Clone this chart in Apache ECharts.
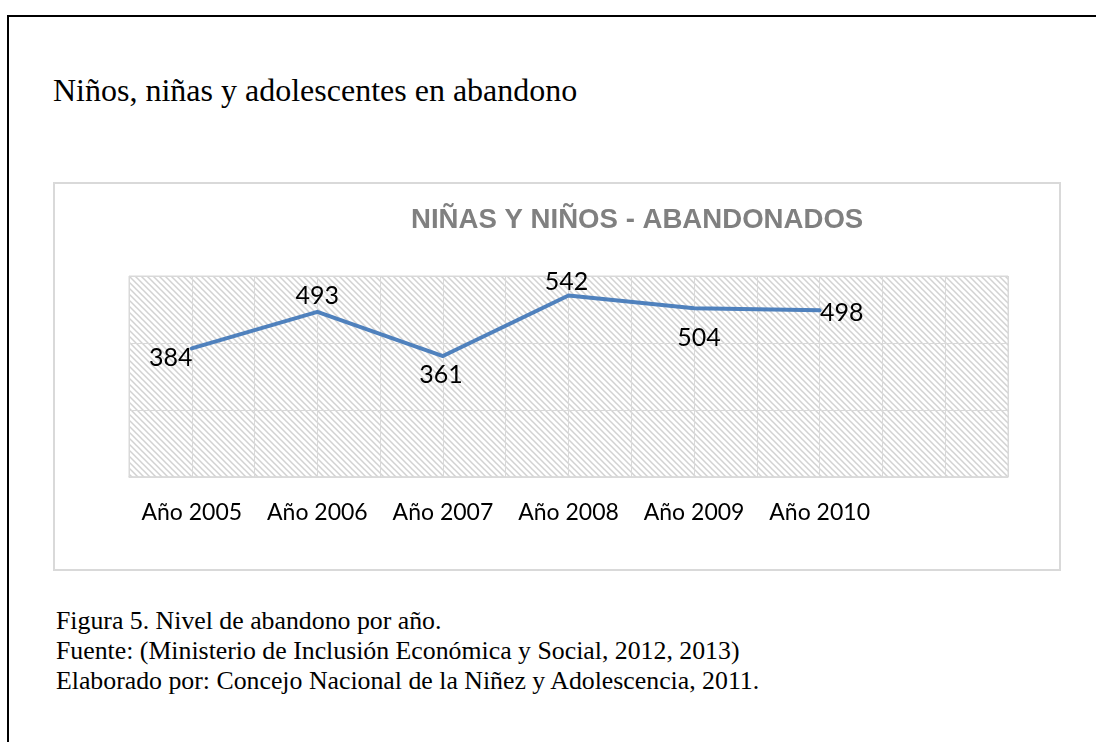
<!DOCTYPE html>
<html>
<head>
<meta charset="utf-8">
<script src="https://cdn.jsdelivr.net/npm/echarts@6/dist/echarts.min.js"></script>
<style>
  html, body { margin: 0; padding: 0; background: #fff; }
  body { width: 1096px; height: 742px; position: relative; overflow: hidden; }
  .marco { position: absolute; left: 7px; top: 15px; right: -20px; bottom: -20px;
           border-left: 2px solid #000; border-top: 2px solid #000; }
  .serif { position: absolute; font-family: "Liberation Serif", "DejaVu Serif", serif; color: #000; white-space: nowrap; }
  .titulo { left: 53px; top: 74px; font-size: 32px; line-height: 32px; }
  .pie { left: 56px; top: 606px; font-size: 25.8px; line-height: 30px; }
  #grafico { position: absolute; left: 53px; top: 182px; width: 1008px; height: 389px; }
  .caja { position: absolute; left: 53px; top: 182px; width: 1008px; height: 389px;
          box-sizing: border-box; border: 2px solid #d9d9d9; pointer-events: none; }
</style>
</head>
<body>
<div class="marco"></div>
<div class="serif titulo">Niños, niñas y adolescentes en abandono</div>
<div id="grafico"></div>
<div class="caja"></div>
<div class="serif pie">Figura 5. Nivel de abandono por año.<br>Fuente: (Ministerio de Inclusión Económica y Social, 2012, 2013)<br>Elaborado por: Concejo Nacional de la Niñez y Adolescencia, 2011.</div>

<script type="text/javascript">
// datos
var anios = ['Año 2005', 'Año 2006', 'Año 2007', 'Año 2008', 'Año 2009', 'Año 2010', ''];
var abandonados = [384, 493, 361, 542, 504, 498];
// desplazamiento de etiquetas (como en el original)
var desplazamientos = [[-21, 10], [0, -16], [-2, 19], [-2, -13], [5, 30], [22, 3]];

// trama diagonal del fondo
var trama = document.createElement('canvas');
trama.width = 6; trama.height = 6;
var ctx = trama.getContext('2d');
ctx.fillStyle = '#ffffff';
ctx.fillRect(0, 0, 6, 6);
ctx.strokeStyle = '#d2d2d2';
ctx.lineWidth = 1.5;
ctx.beginPath();
ctx.moveTo(-1, -1); ctx.lineTo(7, 7);
ctx.moveTo(-4, 2); ctx.lineTo(4, 10);
ctx.moveTo(2, -4); ctx.lineTo(10, 4);
ctx.stroke();

var mitades = [];
for (var i = 0; i < anios.length * 2; i++) mitades.push('');

var chart = echarts.init(document.getElementById('grafico'));

var puntos = abandonados.map(function (v, i) {
    return {
        value: v,
        label: { offset: desplazamientos[i] }
    };
});

chart.setOption({
    animation: false,
    title: {
        text: 'NIÑAS Y NIÑOS - ABANDONADOS',
        left: 353,
        top: 19,
        textStyle: {
            fontFamily: 'Liberation Sans, Arial, sans-serif',
            fontSize: 27.6,
            fontWeight: 'bold',
            color: '#808080'
        }
    },
    grid: {
        left: 76,
        right: 53,
        top: 94,
        bottom: 94,
        show: true,
        backgroundColor: { image: trama, repeat: 'repeat' },
        borderColor: '#d9d9d9',
        borderWidth: 1
    },
    xAxis: [{
        type: 'category',
        data: anios,
        boundaryGap: true,
        axisLine: { lineStyle: { color: '#d9d9d9', width: 1.5 } },
        axisTick: { show: false },
        splitLine: { show: false },
        axisLabel: {
            margin: 24,
            color: '#000',
            fontFamily: 'Lato, sans-serif',
            fontSize: 23,
            interval: 0
        }
    }, {
        type: 'category',
        data: mitades,
        boundaryGap: true,
        position: 'bottom',
        axisLine: { show: false },
        axisTick: { show: false },
        axisLabel: { show: false },
        splitLine: { show: true, lineStyle: { color: '#d9d9d9', width: 1 } }
    }],
    yAxis: {
        type: 'value',
        min: 0,
        max: 600,
        interval: 200,
        axisLine: { show: false },
        axisTick: { show: false },
        axisLabel: { show: false },
        splitLine: { show: true, lineStyle: { color: '#d9d9d9', width: 1 } }
    },
    series: [{
        type: 'line',
        xAxisIndex: 0,
        data: puntos,
        symbol: 'circle',
        symbolSize: 1,
        itemStyle: { color: '#4f81bd' },
        lineStyle: { color: '#4f81bd', width: 4, cap: 'round', join: 'round' },
        label: {
            show: true,
            position: 'inside',
            color: '#000',
            fontFamily: 'Lato, sans-serif',
            fontSize: 25
        }
    }]
});
</script>
</body>
</html>
